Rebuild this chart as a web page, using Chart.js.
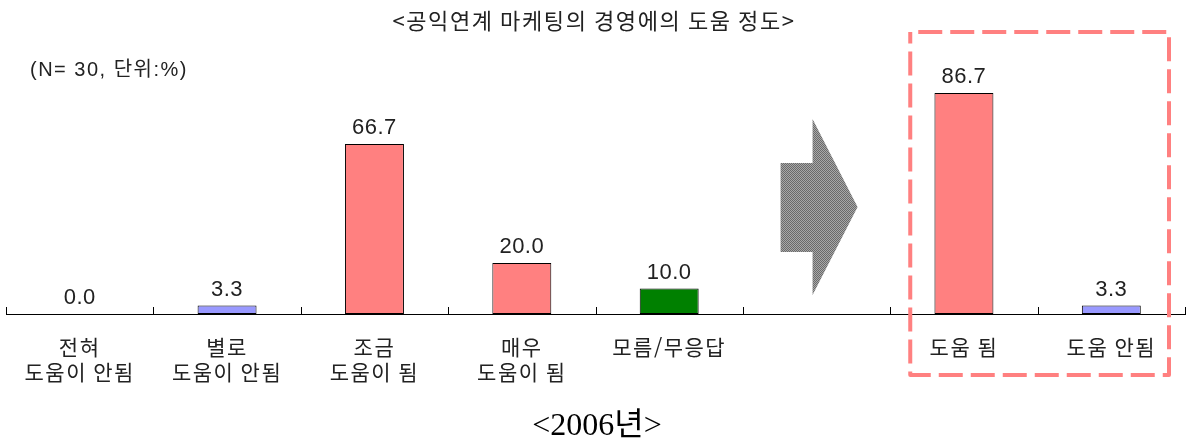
<!DOCTYPE html>
<html lang="ko">
<head>
<meta charset="utf-8">
<title>공익연계 마케팅의 경영에의 도움 정도</title>
<script src="https://cdn.jsdelivr.net/npm/chart.js@4.4.1/dist/chart.umd.min.js"></script>
<style>
    html, body { margin: 0; padding: 0; background: #fff; }
    #wrap { width: 1192px; height: 444px; position: relative; }
</style>
</head>
<body>
<div id="wrap"><canvas id="helpChart"></canvas></div>
<script>
// Survey answers (N=30), in percent. Slot 5 is left empty for the arrow.
const categories = [
    ['전혀', '도움이 안됨'],
    ['별로', '도움이 안됨'],
    ['조금', '도움이 됨'],
    ['매우', '도움이 됨'],
    '모름/무응답',
    '',
    '도움 됨',
    '도움 안됨'
];
const values = [0.0, 3.3, 66.7, 20.0, 10.0, null, 86.7, 3.3];
const barColors = ['#9999FF', '#9999FF', '#FF8080', '#FF8080', '#008000', '#FFFFFF', '#FF8080', '#9999FF'];

const titleText = '<공익연계 마케팅의 경영에의 도움 정도>';
const noteText = '(N= 30, 단위:%)';
const yearText = '<2006년>';

const SANS = '"Liberation Sans", "Noto Sans CJK KR", sans-serif';
const KOR = '"Noto Sans CJK KR", sans-serif';
const TEXT_COLOR = '#222';

// small checker tile used to fill the arrow
function makeChecker(ctx) {
    const tile = document.createElement('canvas');
    tile.width = 2;
    tile.height = 2;
    const t = tile.getContext('2d');
    t.fillStyle = '#a8a8a8';
    t.fillRect(0, 0, 2, 2);
    t.fillStyle = '#6a6a6a';
    t.fillRect(0, 0, 1, 1);
    t.fillRect(1, 1, 1, 1);
    return ctx.createPattern(tile, 'repeat');
}

// letter spacing for the category labels drawn by the x axis
const spacingPlugin = {
    id: 'spacing',
    beforeDraw(chart) {
        chart.ctx.letterSpacing = '1.5px';
    },
    beforeDatasetsDraw(chart) {
        chart.ctx.letterSpacing = '0px';
    }
};

const decorPlugin = {
    id: 'decor',
    afterDraw(chart) {
        const ctx = chart.ctx;
        const area = chart.chartArea;
        const x = chart.scales.x;
        const y = chart.scales.y;
        const slot = (area.right - area.left) / categories.length;
        const edge = (i) => area.left + i * slot;

        ctx.save();

        // short upward ticks at the slot boundaries
        ctx.strokeStyle = '#000';
        ctx.lineWidth = 1;
        ctx.beginPath();
        for (let i = 0; i <= categories.length; i++) {
            const px = Math.round(edge(i)) + 0.5;
            ctx.moveTo(px, area.bottom);
            ctx.lineTo(px, area.bottom - 7);
        }
        ctx.stroke();

        // value labels above the bars
        const meta = chart.getDatasetMeta(0);
        ctx.font = '22px ' + SANS;
        ctx.letterSpacing = '0.5px';
        ctx.fillStyle = TEXT_COLOR;
        ctx.textAlign = 'center';
        ctx.textBaseline = 'middle';
        meta.data.forEach((bar, i) => {
            if (values[i] === null) return;
            ctx.fillText(values[i].toFixed(1), bar.x, bar.y - 16);
        });

        // arrow in the empty slot
        const cx = x.getPixelForValue(5);
        const cy = y.getPixelForValue(42);
        ctx.fillStyle = makeChecker(ctx);
        ctx.beginPath();
        ctx.moveTo(cx - 36, cy - 44);
        ctx.lineTo(cx - 4, cy - 44);
        ctx.lineTo(cx - 4, cy - 88);
        ctx.lineTo(cx + 41, cy);
        ctx.lineTo(cx - 4, cy + 88);
        ctx.lineTo(cx - 4, cy + 45);
        ctx.lineTo(cx - 36, cy + 45);
        ctx.closePath();
        ctx.fill();

        // dashed frame round the summary bars
        ctx.strokeStyle = '#FF8080';
        ctx.lineWidth = 4;
        ctx.lineJoin = 'round';
        ctx.setLineDash([24, 8]);
        ctx.lineDashOffset = -8;
        ctx.strokeRect(edge(6) + 20, 32, edge(8) - 16 - (edge(6) + 20), 343);
        ctx.setLineDash([]);

        // title, note and year
        ctx.fillStyle = TEXT_COLOR;
        ctx.font = '22px ' + KOR;
        ctx.letterSpacing = '1.6px';
        ctx.textAlign = 'center';
        ctx.fillText(titleText, 594, 21);

        ctx.font = '20px ' + SANS;
        ctx.letterSpacing = '1.5px';
        ctx.textAlign = 'left';
        ctx.fillText(noteText, 30, 70);

        ctx.font = '32px "Liberation Serif", "Noto Sans CJK KR", serif';
        ctx.letterSpacing = '0px';
        ctx.fillStyle = '#000';
        ctx.textAlign = 'center';
        ctx.fillText(yearText, 597, 427);

        ctx.restore();
    }
};

document.addEventListener('DOMContentLoaded', () => {
    const ctx = document.getElementById('helpChart').getContext('2d');
    window.helpChart = new Chart(ctx, {
        type: 'bar',
        data: {
            labels: categories,
            datasets: [{
                data: values,
                backgroundColor: barColors,
                borderColor: '#000',
                borderWidth: 1,
                borderSkipped: false,
                barPercentage: 0.4,
                categoryPercentage: 1
            }]
        },
        options: {
            responsive: true,
            maintainAspectRatio: false,
            animation: false,
            layout: { padding: { top: 59, left: 6, right: 7, bottom: 0 } },
            plugins: {
                legend: { display: false },
                tooltip: { enabled: false }
            },
            scales: {
                x: {
                    offset: true,
                    grid: { display: false, drawTicks: false },
                    border: { display: true, color: '#000', width: 1 },
                    ticks: {
                        color: TEXT_COLOR,
                        font: { family: KOR, size: 21, lineHeight: 25 / 21 },
                        padding: 21,
                        maxRotation: 0,
                        autoSkip: false
                    },
                    afterFit: (scale) => { scale.height = 130; }
                },
                y: {
                    display: false,
                    min: 0,
                    max: 100
                }
            }
        },
        plugins: [spacingPlugin, decorPlugin]
    });
});
</script>
</body>
</html>
